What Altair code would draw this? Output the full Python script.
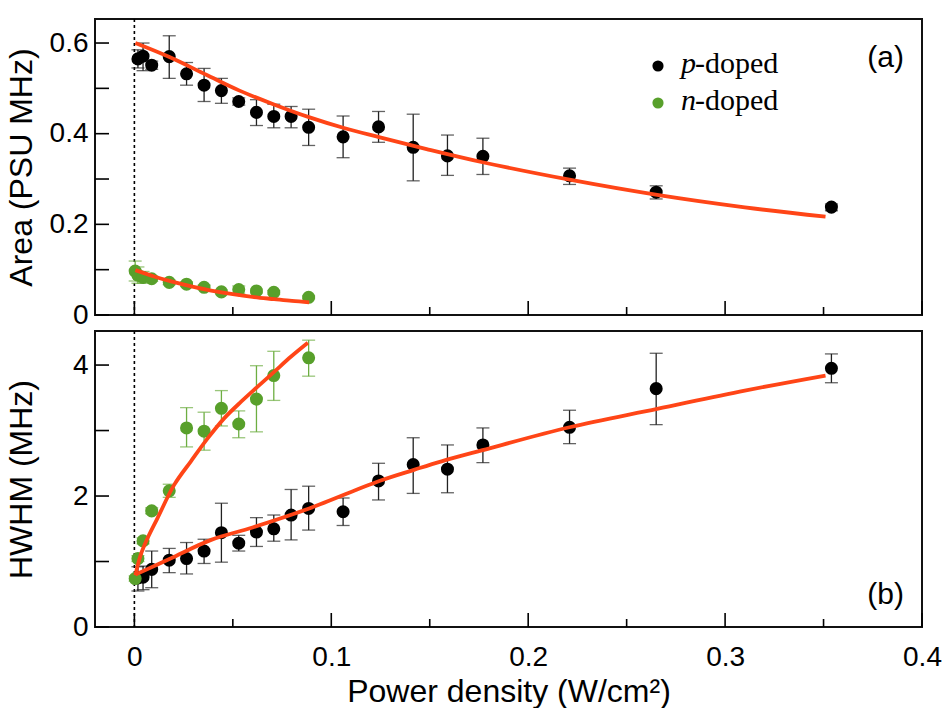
import altair as alt
import pandas as pd

# ---------------- data ----------------
x_p = [0.0018, 0.0044, 0.0088, 0.0177, 0.0265, 0.0354, 0.0442, 0.053, 0.062, 0.0708,
       0.0796, 0.0885, 0.106, 0.124, 0.1416, 0.159, 0.177, 0.221, 0.265, 0.354]
area_p = [0.565, 0.571, 0.551, 0.570, 0.532, 0.507, 0.495, 0.471, 0.447, 0.438,
          0.438, 0.414, 0.393, 0.415, 0.370, 0.351, 0.350, 0.307, 0.271, 0.238]
area_p_lo = [0.545, 0.539, 0.542, 0.522, 0.507, 0.471, 0.467, 0.463, 0.418, 0.413,
             0.413, 0.374, 0.347, 0.381, 0.296, 0.308, 0.310, 0.288, 0.256, 0.230]
area_p_hi = [0.585, 0.600, 0.560, 0.616, 0.557, 0.544, 0.522, 0.479, 0.475, 0.465,
             0.460, 0.454, 0.439, 0.449, 0.443, 0.397, 0.390, 0.324, 0.285, 0.245]
hwhm_p = [0.75, 0.76, 0.88, 1.02, 1.045, 1.16, 1.44, 1.28, 1.45, 1.50,
          1.71, 1.81, 1.76, 2.23, 2.48, 2.41, 2.78, 3.05, 3.64, 3.95]
hwhm_p_lo = [0.55, 0.57, 0.60, 0.83, 0.81, 0.97, 0.99, 1.16, 1.23, 1.31,
             1.33, 1.48, 1.55, 1.94, 2.04, 2.05, 2.51, 2.80, 3.09, 3.73]
hwhm_p_hi = [0.92, 0.93, 1.16, 1.20, 1.29, 1.34, 1.89, 1.40, 1.67, 1.71,
             2.10, 2.15, 1.97, 2.50, 2.89, 2.78, 3.04, 3.31, 4.18, 4.17]

x_n = [0.0004, 0.0018, 0.0044, 0.0088, 0.0177, 0.0265, 0.0354, 0.0442, 0.053, 0.062,
       0.0708, 0.0885]
area_n = [0.097, 0.088, 0.083, 0.080, 0.072, 0.068, 0.061, 0.051, 0.056, 0.053, 0.050, 0.039]
area_n_lo = [0.075, 0.070, 0.070, 0.074, 0.067, 0.063, 0.056, 0.047, 0.048, 0.049, 0.046, 0.036]
area_n_hi = [0.119, 0.106, 0.096, 0.086, 0.077, 0.073, 0.066, 0.055, 0.064, 0.057, 0.054, 0.042]
hwhm_n = [0.74, 1.045, 1.315, 1.773, 2.08, 3.04, 2.99, 3.34, 3.10, 3.48, 3.84, 4.11]
hwhm_n_lo = [0.70, 1.00, 1.27, 1.73, 1.98, 2.75, 2.70, 3.07, 2.89, 2.98, 3.46, 3.83]
hwhm_n_hi = [0.78, 1.09, 1.36, 1.82, 2.18, 3.35, 3.28, 3.61, 3.30, 3.99, 4.21, 4.38]

# fitted curves
fit_area_p_x = [0.0005, 0.0178, 0.0365, 0.0534, 0.0712, 0.089, 0.1069, 0.1247, 0.1484,
                0.1768, 0.221, 0.2655, 0.31, 0.351]
fit_area_p_y = [0.600, 0.569, 0.530, 0.495, 0.464, 0.436, 0.412, 0.392, 0.366,
                0.337, 0.2985, 0.265, 0.2375, 0.217]
fit_area_n_x = [0.0005, 0.01, 0.0187, 0.03, 0.039, 0.05, 0.06, 0.071, 0.08, 0.0888]
fit_area_n_y = [0.099, 0.085, 0.074, 0.062, 0.054, 0.046, 0.040, 0.035, 0.031, 0.028]
fit_hwhm_p_x = [0.0005, 0.02, 0.039, 0.06, 0.0888, 0.1244, 0.142, 0.156, 0.1768, 0.221,
                0.2655, 0.31, 0.351]
fit_hwhm_p_y = [0.80, 1.07, 1.33, 1.52, 1.81, 2.23, 2.40, 2.53, 2.70, 3.05, 3.33, 3.61, 3.84]
fit_hwhm_n_x = [0.0005, 0.0032, 0.0066, 0.0117, 0.0202, 0.0287, 0.0372, 0.0457, 0.0542,
                0.0626, 0.0711, 0.0796, 0.0881]
fit_hwhm_n_y = [0.79, 1.10, 1.35, 1.66, 2.17, 2.53, 2.88, 3.19, 3.44, 3.67, 3.90, 4.13, 4.34]

x_major_ticks = [0, 0.1, 0.2, 0.3, 0.4]
x_minor_ticks = [0.05, 0.15, 0.25, 0.35]
x_labels = [0, 0.1, 0.2, 0.3, 0.4]
area_ticks = [0, 0.1, 0.2, 0.3, 0.4, 0.5, 0.6]
area_labels = [0, 0.2, 0.4, 0.6]
hwhm_ticks = [0, 1, 2, 3, 4]
hwhm_labels = [0, 2, 4]
legend_names = ["p", "n"]
panel_names = ["(a)", "(b)"]

# ---------------- styling ----------------
W, H = 827, 296
BLACK = "#000000"
GREEN = "#58A02B"
GREEN_ERR = "#6DAE42"
RED = "#FF4517"
ERR = "#222222"
SANS = "Liberation Sans"
SERIF = "Liberation Serif"

xs = alt.Scale(domain=[-0.02, 0.4], nice=False, zero=False)
ys_top = alt.Scale(domain=[0, 0.653], nice=False, zero=False)
ys_bot = alt.Scale(domain=[0, 4.52], nice=False, zero=False)


def panel(xv, yv_p, lo_p, hi_p, xn, yv_n, lo_n, hi_n, fpx, fpy, fnx, fny,
          yscale, yticks, ylabels, ytitle, show_x, label, label_y, legend):
    dp = pd.DataFrame({"x": xv, "y": yv_p, "lo": lo_p, "hi": hi_p})
    dn = pd.DataFrame({"x": xn, "y": yv_n, "lo": lo_n, "hi": hi_n})
    fp = pd.DataFrame({"x": fpx, "y": fpy})
    fn = pd.DataFrame({"x": fnx, "y": fny})

    if show_x:
        xaxis = alt.Axis(values=x_labels, format="~g", title="Power density (W/cm²)",
                         labelPadding=16, labelFlush=False, titlePadding=5)
    else:
        xaxis = alt.Axis(labels=False, title=None, values=x_labels)
    yaxis = alt.Axis(values=ylabels, format="~g", title=ytitle, labelPadding=7,
                     titleAngle=270, titleX=-74, titleY=H / 2, titleBaseline="middle")

    X = lambda f="x": alt.X(f"{f}:Q", scale=xs, axis=xaxis)
    Y = lambda f="y": alt.Y(f"{f}:Q", scale=yscale, axis=yaxis)

    layers = []
    # dashed zero line
    layers.append(alt.Chart(pd.DataFrame({"x": [0]})).mark_rule(
        color=BLACK, strokeDash=[3, 3], strokeWidth=1.6).encode(x=X()))
    # inward ticks
    layers.append(alt.Chart(pd.DataFrame({"v": yticks})).mark_rule(
        color=BLACK, strokeWidth=1.6).encode(y=Y("v"), x=alt.value(0), x2=alt.value(14)))
    layers.append(alt.Chart(pd.DataFrame({"v": x_major_ticks})).mark_rule(
        color=BLACK, strokeWidth=1.6).encode(x=X("v"), y=alt.value(H), y2=alt.value(H - 14)))
    layers.append(alt.Chart(pd.DataFrame({"v": x_minor_ticks})).mark_rule(
        color=BLACK, strokeWidth=1.6).encode(x=X("v"), y=alt.value(H), y2=alt.value(H - 8)))
    # error bars
    for d, c in ((dp, ERR), (dn, GREEN_ERR)):
        base = alt.Chart(d)
        layers.append(base.mark_rule(color=c, strokeWidth=1.3).encode(
            x=X(), y=Y("lo"), y2="hi:Q"))
        layers.append(base.mark_tick(color=c, orient="horizontal", size=13, thickness=1.3).encode(
            x=X(), y=Y("lo")))
        layers.append(base.mark_tick(color=c, orient="horizontal", size=13, thickness=1.3).encode(
            x=X(), y=Y("hi")))
    # points
    layers.append(alt.Chart(dp).mark_circle(color=BLACK, opacity=1, size=170).encode(
        x=X(), y=Y()))
    layers.append(alt.Chart(dn).mark_circle(color=GREEN, opacity=1, size=170).encode(
        x=X(), y=Y()))
    # fits
    for f in (fp, fn):
        layers.append(alt.Chart(f).mark_line(color=RED, strokeWidth=3.8,
                                             interpolate="catmull-rom").encode(x=X(), y=Y()))
    # panel label
    layers.append(alt.Chart(pd.DataFrame({"t": [label]})).mark_text(
        font=SANS, fontSize=30, align="right", baseline="alphabetic", color=BLACK).encode(
        text="t:N", x=alt.value(809), y=alt.value(label_y)))
    if legend:
        for name, col, dy in ((legend_names[0], BLACK, 0), (legend_names[1], GREEN, 37)):
            ld = pd.DataFrame({"t": [name], "s": ["-doped"]})
            layers.append(alt.Chart(ld).mark_circle(color=col, opacity=1, size=125).encode(
                x=alt.value(563), y=alt.value(47 + dy)))
            layers.append(alt.Chart(ld).mark_text(
                font=SERIF, fontStyle="italic", fontSize=30, align="left",
                baseline="alphabetic", color=BLACK).encode(
                text="t:N", x=alt.value(586), y=alt.value(54 + dy)))
            layers.append(alt.Chart(ld).mark_text(
                font=SERIF, fontSize=30, align="left",
                baseline="alphabetic", color=BLACK).encode(
                text="s:N", x=alt.value(600), y=alt.value(54 + dy)))
    return alt.layer(*layers).properties(width=W, height=H)


top = panel(x_p, area_p, area_p_lo, area_p_hi, x_n, area_n, area_n_lo, area_n_hi,
            fit_area_p_x, fit_area_p_y, fit_area_n_x, fit_area_n_y,
            ys_top, area_ticks, area_labels, "Area (PSU MHz)", False, panel_names[0], 48, True)
bottom = panel(x_p, hwhm_p, hwhm_p_lo, hwhm_p_hi, x_n, hwhm_n, hwhm_n_lo, hwhm_n_hi,
               fit_hwhm_p_x, fit_hwhm_p_y, fit_hwhm_n_x, fit_hwhm_n_y,
               ys_bot, hwhm_ticks, hwhm_labels, "HWHM (MHz)", True, panel_names[1], 273, False)

chart = alt.vconcat(top, bottom, spacing=16, bounds="flush").properties(
    padding={"left": 4, "top": 17, "right": 0, "bottom": 0},
    background="white",
).configure_view(
    stroke="#111111", strokeWidth=2
).configure_axis(
    grid=False, domain=False, ticks=False, tickSize=0,
    labelFont=SANS, labelFontSize=28, labelColor=BLACK,
    titleFont=SANS, titleFontSize=32, titleColor=BLACK, titleFontWeight="normal",
)

chart.save("out.html", embed_options={"renderer": "svg", "actions": False})
